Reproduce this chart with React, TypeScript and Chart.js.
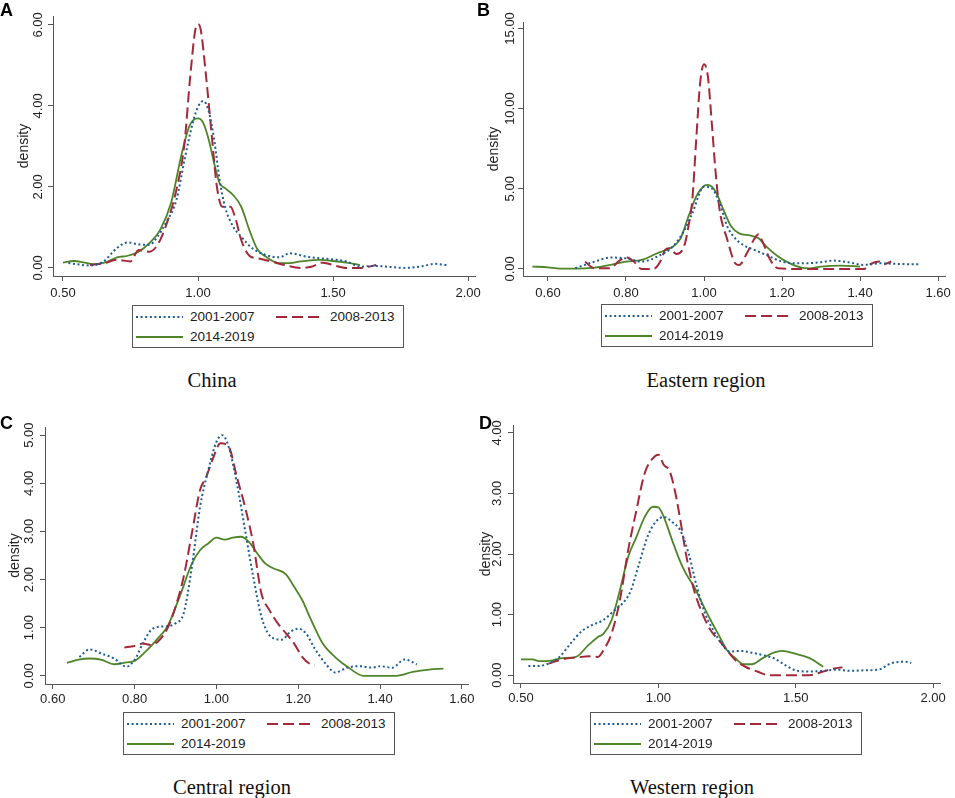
import { useEffect, useRef } from "react";
import Chart from "chart.js/auto";

// series names, shared by all four panels
const seriesLabels = ["2001-2007", "2008-2013", "2014-2019"];

// A: China
const chinaXTicks = [0.5, 1.0, 1.5, 2.0];
const chinaYTicks = [0, 2, 4, 6];
const china0107 = [
  [0.52, 0.12], [0.6, 0.06], [0.65, 0.16], [0.7, 0.49], [0.74, 0.63], [0.78, 0.58],
  [0.82, 0.57], [0.85, 0.77], [0.88, 1.1], [0.92, 1.68], [0.95, 2.67], [0.98, 3.57],
  [1.0, 3.98], [1.02, 4.12], [1.04, 3.86], [1.06, 3.16], [1.08, 2.17], [1.1, 1.51],
  [1.13, 1.02], [1.16, 0.77], [1.2, 0.49], [1.25, 0.32], [1.3, 0.26], [1.34, 0.36],
  [1.4, 0.28], [1.45, 0.24], [1.5, 0.21], [1.55, 0.16], [1.6, 0.03], [1.65, 0.05],
  [1.7, 0.03], [1.76, 0.0], [1.82, 0.03], [1.88, 0.1], [1.92, 0.07],
];
const china0813 = [
  [0.6, 0.07], [0.65, 0.11], [0.7, 0.2], [0.75, 0.16], [0.78, 0.44], [0.82, 0.4],
  [0.85, 0.57], [0.88, 1.02], [0.92, 1.93], [0.95, 3.08], [0.97, 4.64], [0.99, 5.88],
  [1.0, 6.02], [1.01, 5.88], [1.03, 4.72], [1.05, 3.33], [1.07, 2.0], [1.09, 1.51],
  [1.12, 1.51], [1.14, 1.19], [1.16, 0.69], [1.19, 0.3], [1.22, 0.24], [1.27, 0.16],
  [1.32, 0.07], [1.38, 0.0], [1.42, 0.03], [1.46, 0.13], [1.5, 0.07], [1.55, 0.0],
  [1.6, 0.0], [1.63, 0.03], [1.66, 0.07],
];
const china1419 = [
  [0.5, 0.13], [0.54, 0.17], [0.58, 0.13], [0.62, 0.09], [0.66, 0.14], [0.7, 0.26],
  [0.74, 0.3], [0.78, 0.4], [0.82, 0.61], [0.86, 0.94], [0.9, 1.6], [0.94, 2.83],
  [0.97, 3.53], [1.0, 3.69], [1.02, 3.57], [1.04, 3.16], [1.06, 2.58], [1.08, 2.09],
  [1.1, 1.97], [1.13, 1.8], [1.16, 1.51], [1.19, 0.94], [1.22, 0.46], [1.25, 0.28],
  [1.3, 0.12], [1.34, 0.12], [1.38, 0.16], [1.45, 0.2], [1.5, 0.17], [1.55, 0.13],
  [1.6, 0.07],
];

// B: Eastern region
const eastXTicks = [0.6, 0.8, 1.0, 1.2, 1.4, 1.6];
const eastYTicks = [0, 5, 10, 15];
const east0107 = [
  [0.67, 0.05], [0.72, 0.46], [0.76, 0.71], [0.8, 0.66], [0.84, 0.46], [0.88, 0.77],
  [0.92, 1.39], [0.95, 2.43], [0.97, 3.47], [1.0, 5.13], [1.02, 5.03], [1.04, 4.09],
  [1.06, 2.64], [1.08, 1.91], [1.1, 1.5], [1.13, 1.18], [1.16, 0.87], [1.2, 0.46],
  [1.25, 0.35], [1.3, 0.42], [1.33, 0.52], [1.37, 0.42], [1.41, 0.25], [1.45, 0.35],
  [1.5, 0.31], [1.55, 0.29],
];
const east0813 = [
  [0.695, 0.45], [0.72, 0.04], [0.76, 0.04], [0.78, 0.46], [0.8, 0.73], [0.82, 0.46],
  [0.84, 0.0], [0.87, 0.0], [0.89, 0.56], [0.9, 1.18], [0.91, 1.29], [0.93, 0.93],
  [0.95, 1.5], [0.96, 2.64], [0.97, 4.3], [0.98, 8.04], [0.99, 11.57], [1.0, 12.76],
  [1.01, 11.99], [1.02, 9.08], [1.03, 5.96], [1.04, 3.68], [1.06, 1.81], [1.08, 0.35],
  [1.09, 0.25], [1.11, 0.98], [1.13, 1.91], [1.14, 2.16], [1.15, 1.7], [1.17, 0.56],
  [1.19, 0.04], [1.25, 0.0], [1.3, 0.0], [1.35, 0.0], [1.41, 0.0], [1.43, 0.35],
  [1.45, 0.46], [1.46, 0.29], [1.48, 0.46],
];
const east1419 = [
  [0.56, 0.15], [0.6, 0.1], [0.63, 0.02], [0.67, 0.02], [0.72, 0.08], [0.76, 0.25],
  [0.8, 0.46], [0.84, 0.56], [0.88, 0.98], [0.92, 1.39], [0.94, 1.91], [0.96, 3.26],
  [0.98, 4.51], [1.0, 5.17], [1.01, 5.24], [1.03, 4.82], [1.05, 3.68], [1.07, 2.64],
  [1.09, 2.22], [1.12, 2.08], [1.14, 1.91], [1.16, 1.39], [1.19, 0.77], [1.22, 0.35],
  [1.25, 0.08], [1.27, 0.04], [1.3, 0.15], [1.35, 0.21], [1.4, 0.15],
];

// C: Central region
const centralXTicks = [0.6, 0.8, 1.0, 1.2, 1.4, 1.6];
const centralYTicks = [0, 1, 2, 3, 4, 5];
const central0107 = [
  [0.665, 0.39], [0.69, 0.55], [0.72, 0.46], [0.75, 0.36], [0.78, 0.19], [0.8, 0.33],
  [0.82, 0.67], [0.84, 0.95], [0.86, 1.02], [0.88, 1.03], [0.9, 1.09], [0.92, 1.3],
  [0.94, 2.26], [0.96, 3.51], [0.98, 4.27], [1.0, 4.86], [1.015, 5.0], [1.03, 4.76],
  [1.05, 4.0], [1.07, 3.03], [1.09, 2.06], [1.11, 1.23], [1.13, 0.84], [1.16, 0.75],
  [1.18, 0.91], [1.2, 0.98], [1.22, 0.87], [1.24, 0.57], [1.27, 0.22], [1.29, 0.07],
  [1.32, 0.17], [1.35, 0.2], [1.38, 0.17], [1.4, 0.2], [1.43, 0.17], [1.46, 0.34],
  [1.49, 0.24],
];
const central0813 = [
  [0.775, 0.59], [0.8, 0.62], [0.82, 0.67], [0.84, 0.64], [0.86, 0.74], [0.88, 0.98],
  [0.9, 1.43], [0.92, 2.06], [0.94, 2.96], [0.96, 3.86], [0.975, 4.13], [0.99, 4.48],
  [1.01, 4.83], [1.03, 4.76], [1.05, 4.13], [1.07, 3.51], [1.09, 2.75], [1.11, 1.71],
  [1.13, 1.36], [1.15, 1.09], [1.17, 0.88], [1.19, 0.67], [1.21, 0.39], [1.23, 0.24],
  [1.24, 0.22],
];
const central1419 = [
  [0.635, 0.27], [0.66, 0.33], [0.69, 0.36], [0.72, 0.33], [0.75, 0.24], [0.78, 0.28],
  [0.8, 0.31], [0.83, 0.53], [0.86, 0.81], [0.88, 1.02], [0.91, 1.64], [0.94, 2.33],
  [0.96, 2.61], [0.98, 2.75], [1.0, 2.87], [1.02, 2.83], [1.04, 2.87], [1.06, 2.89],
  [1.08, 2.78], [1.1, 2.54], [1.12, 2.33], [1.14, 2.23], [1.17, 2.11], [1.19, 1.85],
  [1.21, 1.57], [1.23, 1.19], [1.26, 0.67], [1.29, 0.39], [1.32, 0.19], [1.36, 0.0],
  [1.4, 0.0], [1.44, 0.0], [1.48, 0.08], [1.52, 0.13], [1.555, 0.15],
];

// D: Western region
const westXTicks = [0.5, 1.0, 1.5, 2.0];
const westYTicks = [0, 1, 2, 3, 4];
const west0107 = [
  [0.527, 0.15], [0.56, 0.15], [0.6, 0.19], [0.64, 0.3], [0.68, 0.52], [0.72, 0.72],
  [0.76, 0.83], [0.8, 0.91], [0.84, 1.07], [0.88, 1.24], [0.9, 1.4], [0.93, 1.84],
  [0.96, 2.28], [0.99, 2.53], [1.02, 2.61], [1.05, 2.53], [1.08, 2.39], [1.11, 2.01],
  [1.14, 1.46], [1.17, 1.02], [1.2, 0.74], [1.23, 0.52], [1.26, 0.39], [1.3, 0.4],
  [1.34, 0.37], [1.38, 0.33], [1.42, 0.28], [1.46, 0.17], [1.5, 0.08], [1.55, 0.06],
  [1.6, 0.07], [1.65, 0.09], [1.7, 0.07], [1.75, 0.08], [1.8, 0.09], [1.85, 0.2],
  [1.9, 0.22], [1.92, 0.2],
];
const west0813 = [
  [0.6, 0.19], [0.65, 0.26], [0.7, 0.29], [0.75, 0.31], [0.78, 0.3], [0.8, 0.41],
  [0.83, 0.69], [0.86, 1.24], [0.89, 2.06], [0.92, 2.72], [0.95, 3.33], [0.98, 3.58],
  [1.0, 3.64], [1.02, 3.47], [1.04, 3.38], [1.06, 3.05], [1.08, 2.56], [1.1, 2.01],
  [1.13, 1.4], [1.16, 1.02], [1.19, 0.74], [1.22, 0.58], [1.25, 0.41], [1.28, 0.25],
  [1.32, 0.13], [1.36, 0.06], [1.4, 0.0], [1.45, 0.0], [1.5, 0.0], [1.55, 0.0],
  [1.6, 0.06], [1.64, 0.11], [1.67, 0.13],
];
const west1419 = [
  [0.5, 0.26], [0.54, 0.26], [0.57, 0.23], [0.61, 0.24], [0.65, 0.28], [0.7, 0.3],
  [0.74, 0.47], [0.78, 0.63], [0.8, 0.68], [0.83, 0.91], [0.86, 1.4], [0.89, 1.95],
  [0.92, 2.28], [0.95, 2.61], [0.98, 2.78], [1.0, 2.77], [1.02, 2.61], [1.05, 2.23],
  [1.08, 1.87], [1.1, 1.68], [1.13, 1.46], [1.16, 1.18], [1.19, 0.91], [1.22, 0.66],
  [1.25, 0.41], [1.28, 0.28], [1.31, 0.18], [1.34, 0.18], [1.38, 0.28], [1.42, 0.37],
  [1.45, 0.4], [1.5, 0.35], [1.55, 0.28], [1.6, 0.14],
];

const colors = ["#1f5c93", "#a3293a", "#4f8529"];
const widths = [2, 2, 1.8];
const dashes = [[2, 2.6], [11, 5], []];
const svgDash = ["2 2.6", "11 5", ""];
const axisColor = "#555";
const sans = "'Liberation Sans', Arial, sans-serif";
const serif = "'Liberation Serif', 'Times New Roman', serif";

type Box = { left: number; top: number; width: number; height: number };

type PanelProps = {
  letter: string;
  letterPos: [number, number];
  caption: string;
  captionPos: [number, number];
  legendPos: [number, number];
  series: number[][][];
  xTicks: number[];
  yTicks: number[];
  xRange: [number, number];
  yRange: [number, number];
  box: Box;
  yAxisW: number;
  xAxisH: number;
  padTop: number;
  padRight: number;
  titlePad: number;
  yTickPad: number;
  xTickPad: number;
};

const Panel = (p: PanelProps) => {
  const ref = useRef<HTMLCanvasElement>(null);
  useEffect(() => {
    const font = { family: sans, size: 13 };
    const chart = new Chart(ref.current as HTMLCanvasElement, {
      type: "line",
      data: {
        datasets: p.series.map((pts, i) => ({
          label: seriesLabels[i],
          data: pts.map(([x, y]) => ({ x, y })),
          borderColor: colors[i],
          borderWidth: widths[i],
          borderDash: dashes[i],
          borderCapStyle: "butt",
          pointRadius: 0,
          fill: false,
          cubicInterpolationMode: "monotone",
        })),
      },
      options: {
        animation: false,
        responsive: false,
        layout: { padding: { top: p.padTop, right: p.padRight, left: 0, bottom: 0 } },
        plugins: { legend: { display: false }, tooltip: { enabled: false } },
        scales: {
          x: {
            type: "linear",
            min: p.xRange[0],
            max: p.xRange[1],
            afterBuildTicks: (s: any) => {
              s.ticks = p.xTicks.map((v) => ({ value: v }));
            },
            afterFit: (s: any) => {
              s.height = p.xAxisH;
            },
            ticks: {
              callback: (v: any) => Number(v).toFixed(2),
              font,
              color: "#222",
              padding: p.xTickPad,
              maxRotation: 0,
              autoSkip: false,
            },
            grid: { drawOnChartArea: false, drawTicks: true, tickLength: 5, color: axisColor },
            border: { display: true, color: axisColor, width: 1 },
          },
          y: {
            type: "linear",
            min: p.yRange[0],
            max: p.yRange[1],
            afterBuildTicks: (s: any) => {
              s.ticks = p.yTicks.map((v) => ({ value: v }));
            },
            afterFit: (s: any) => {
              s.width = p.yAxisW;
            },
            title: {
              display: true,
              text: "density",
              font: { family: sans, size: 14 },
              color: "#222",
              padding: { top: p.titlePad, bottom: 0 },
            },
            ticks: {
              callback: (v: any) => Number(v).toFixed(2),
              font,
              color: "#222",
              padding: p.yTickPad,
              minRotation: 90,
              maxRotation: 90,
              crossAlign: "center",
              autoSkip: false,
            },
            grid: { drawOnChartArea: false, drawTicks: true, tickLength: 5, color: axisColor },
            border: { display: true, color: axisColor, width: 1 },
          },
        },
      },
    } as any);
    return () => chart.destroy();
  }, []);

  const [lx, ly] = p.legendPos;
  const rows: [number, number][] = [
    [4, 12],
    [144, 12],
    [4, 32],
  ];

  return (
    <>
      <canvas
        ref={ref}
        width={p.box.width}
        height={p.box.height}
        style={{ position: "absolute", left: p.box.left, top: p.box.top }}
      />
      <div
        style={{
          position: "absolute",
          left: p.letterPos[0],
          top: p.letterPos[1],
          font: `bold 18px ${sans}`,
          lineHeight: "18px",
          color: "#000",
        }}
      >
        {p.letter}
      </div>
      <div
        style={{
          position: "absolute",
          left: lx,
          top: ly,
          width: 270,
          height: 41,
          border: `1px solid ${axisColor}`,
          background: "#fff",
        }}
      >
        {rows.map(([rx, ry], i) => (
          <div key={i}>
            <svg
              width={47}
              height={4}
              style={{ position: "absolute", left: rx - 1, top: ry - 3 }}
            >
              <line
                x1={0}
                y1={2}
                x2={47}
                y2={2}
                stroke={colors[i]}
                strokeWidth={widths[i]}
                strokeDasharray={svgDash[i] || undefined}
              />
            </svg>
            <span
              style={{
                position: "absolute",
                left: rx + 53,
                top: ry - 9,
                font: `13.5px ${sans}`,
                lineHeight: "16px",
                color: "#222",
                whiteSpace: "nowrap",
              }}
            >
              {seriesLabels[i]}
            </span>
          </div>
        ))}
      </div>
      <div
        style={{
          position: "absolute",
          left: p.captionPos[0] - 150,
          top: p.captionPos[1] - 12,
          width: 300,
          textAlign: "center",
          font: `20.5px ${serif}`,
          lineHeight: "24px",
          color: "#111",
        }}
      >
        {p.caption}
      </div>
    </>
  );
};

const App = () => {
  return (
    <div
      style={{
        position: "absolute",
        left: 0,
        top: 0,
        width: 955,
        height: 798,
        background: "#fff",
        overflow: "hidden",
      }}
    >
      <Panel
        letter="A"
        letterPos={[0, 1]}
        caption="China"
        captionPos={[212, 380]}
        legendPos={[132, 305]}
        series={[china0107, china0813, china1419]}
        xTicks={chinaXTicks}
        yTicks={chinaYTicks}
        xRange={[0.463, 2.026]}
        yRange={[-0.2, 6.22]}
        box={{ left: 0, top: 0, width: 485, height: 300 }}
        yAxisW={53}
        xAxisH={24}
        padTop={16}
        padRight={5}
        titlePad={15.6}
        yTickPad={-2.6}
        xTickPad={4.2}
      />
      <Panel
        letter="B"
        letterPos={[477, 1]}
        caption="Eastern region"
        captionPos={[706, 380]}
        legendPos={[601, 304]}
        series={[east0107, east0813, east1419]}
        xTicks={eastXTicks}
        yTicks={eastYTicks}
        xRange={[0.536, 1.62]}
        yRange={[-0.44, 15.4]}
        box={{ left: 480, top: 0, width: 475, height: 300 }}
        yAxisW={43}
        xAxisH={24}
        padTop={22}
        padRight={5}
        titlePad={5.6}
        yTickPad={-8.2}
        xTickPad={4.2}
      />
      <Panel
        letter="C"
        letterPos={[0, 414]}
        caption="Central region"
        captionPos={[232, 787]}
        legendPos={[123, 712]}
        series={[central0107, central0813, central1419]}
        xTicks={centralXTicks}
        yTicks={centralYTicks}
        xRange={[0.581, 1.615]}
        yRange={[-0.17, 5.17]}
        box={{ left: 0, top: 405, width: 480, height: 300 }}
        yAxisW={45}
        xAxisH={21}
        padTop={22}
        padRight={12}
        titlePad={6.6}
        yTickPad={-1.6}
        xTickPad={2.2}
      />
      <Panel
        letter="D"
        letterPos={[479, 414]}
        caption="Western region"
        captionPos={[692, 787]}
        legendPos={[590, 712]}
        series={[west0107, west0813, west1419]}
        xTicks={westXTicks}
        yTicks={westYTicks}
        xRange={[0.471, 2.025]}
        yRange={[-0.13, 4.13]}
        box={{ left: 476, top: 405, width: 479, height: 300 }}
        yAxisW={37}
        xAxisH={22}
        padTop={20}
        padRight={15}
        titlePad={1.6}
        yTickPad={-1.6}
        xTickPad={2.2}
      />
    </div>
  );
};

export default App;
